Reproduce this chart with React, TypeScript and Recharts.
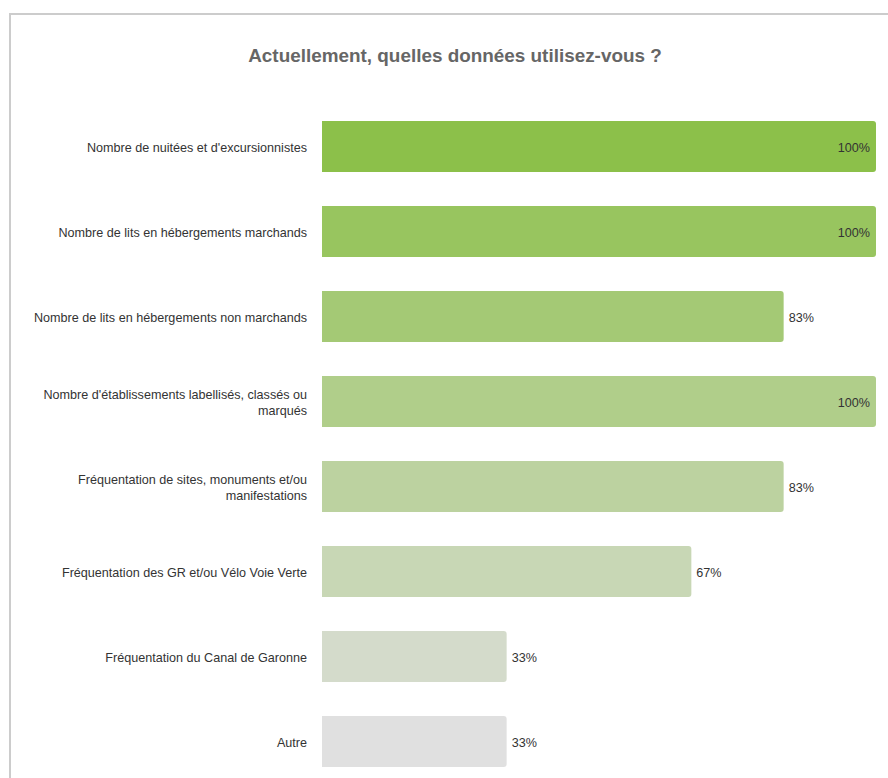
import React from "react";
import { BarChart, Bar, XAxis, YAxis, Cell, LabelList } from "recharts";

const title = "Actuellement, quelles données utilisez-vous ?";

const categories = [
  "Nombre de nuitées et d'excursionnistes",
  "Nombre de lits en hébergements marchands",
  "Nombre de lits en hébergements non marchands",
  "Nombre d'établissements labellisés, classés ou marqués",
  "Fréquentation de sites, monuments et/ou manifestations",
  "Fréquentation des GR et/ou Vélo Voie Verte",
  "Fréquentation du Canal de Garonne",
  "Autre",
];

const values = [100, 100, 83.33, 100, 83.33, 66.67, 33.33, 33.33];

const colors = [
  "#8cc04a",
  "#98c55f",
  "#a4c975",
  "#b0ce8a",
  "#bcd2a0",
  "#c8d7b5",
  "#d4dbcb",
  "#e0e0e0",
];

const data = categories.map((name, i) => ({ name, value: values[i] }));

const FONT = "'Liberation Sans', Arial, Helvetica, sans-serif";
const LABEL_SIZE = 12.6;
const WRAP_WIDTH = 292;

let measureCtx: CanvasRenderingContext2D | null = null;
function measure(text: string): number {
  if (!measureCtx) {
    const c = document.createElement("canvas");
    measureCtx = c.getContext("2d");
  }
  if (!measureCtx) return text.length * LABEL_SIZE * 0.5;
  measureCtx.font = `${LABEL_SIZE}px ${FONT}`;
  return measureCtx.measureText(text).width;
}

function wrap(text: string, maxWidth: number): string[] {
  const words = text.split(" ");
  const lines: string[] = [];
  let cur = "";
  for (const w of words) {
    const cand = cur ? cur + " " + w : w;
    if (cur && measure(cand) > maxWidth) {
      lines.push(cur);
      cur = w;
    } else {
      cur = cand;
    }
  }
  if (cur) lines.push(cur);
  return lines;
}

const CategoryTick = (props: any) => {
  const { x, y, payload } = props;
  const lines = wrap(String(payload.value), WRAP_WIDTH);
  const lh = 16;
  const startY = y + 1.5 - ((lines.length - 1) * lh) / 2;
  return (
    <text
      x={x}
      y={startY}
      textAnchor="end"
      fill="#333333"
      style={{ fontSize: LABEL_SIZE, fontFamily: FONT }}
    >
      {lines.map((l, i) => (
        <tspan key={i} x={x} y={startY + i * lh} dy="0.355em">
          {l}
        </tspan>
      ))}
    </text>
  );
};

const ValueLabel = (props: any) => {
  const { x, y, width, height, value } = props;
  const inside = value >= 100;
  const tx = inside ? x + width - 6 : x + width + 5;
  return (
    <text
      x={tx}
      y={y + height / 2 + 1.5}
      textAnchor={inside ? "end" : "start"}
      dominantBaseline="central"
      fill="#333333"
      style={{ fontSize: LABEL_SIZE, fontFamily: FONT }}
    >
      {`${Math.round(value)}%`}
    </text>
  );
};

export default function App() {
  return (
    <div
      style={{
        position: "fixed",
        left: 0,
        top: 0,
        width: 888,
        height: 778,
        overflow: "hidden",
        background: "#ffffff",
        fontFamily: FONT,
      }}
    >
      <div
        style={{
          position: "absolute",
          left: 9,
          top: 13,
          width: 1000,
          height: 1000,
          border: "2px solid #cccccc",
          boxSizing: "border-box",
        }}
      />
      <div
        style={{
          position: "absolute",
          left: 0,
          top: 45,
          width: 910,
          textAlign: "center",
          fontSize: 18.9,
          fontWeight: "bold",
          color: "#666666",
        }}
      >
        {title}
      </div>
      <div style={{ position: "absolute", left: 0, top: 0 }}>
        <BarChart
          width={888}
          height={800}
          layout="vertical"
          data={data}
          margin={{ top: 104, right: 12, bottom: 16, left: 0 }}
          barCategoryGap="20%"
        >
          <XAxis type="number" domain={[0, 100]} hide />
          <YAxis
            type="category"
            dataKey="name"
            width={322}
            axisLine={false}
            tickLine={false}
            tickSize={0}
            tickMargin={15}
            interval={0}
            tick={<CategoryTick />}
          />
          <Bar dataKey="value" radius={[0, 3, 3, 0]} isAnimationActive={false}>
            {data.map((d, i) => (
              <Cell key={d.name} fill={colors[i]} />
            ))}
            <LabelList dataKey="value" content={<ValueLabel />} />
          </Bar>
        </BarChart>
      </div>
    </div>
  );
}
